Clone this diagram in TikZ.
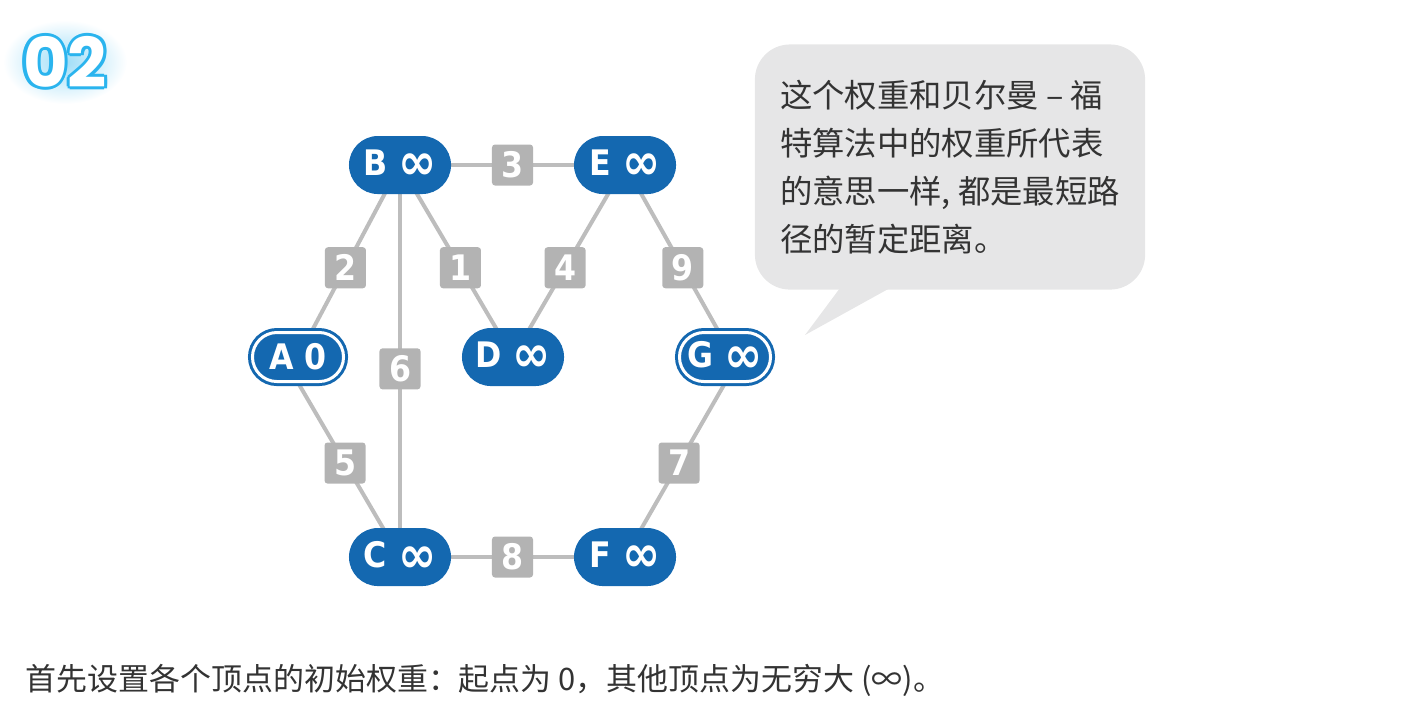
\documentclass[tikz,border=0pt]{standalone}
\usepackage{fontspec}
\setmainfont{DejaVu Sans}
\newfontfamily\cjk{Noto Sans CJK SC}
\newfontfamily\vtxfont{DejaVu Sans Condensed}
\newfontfamily\numfont{Poppins}
\usetikzlibrary{shapes.misc,positioning}
\definecolor{nodeblue}{HTML}{1468B0}
\definecolor{edgegray}{HTML}{BDBDBD}
\definecolor{wtgray}{HTML}{B3B3B3}
\definecolor{bubblegray}{HTML}{E6E6E7}
\definecolor{glowblue}{HTML}{2AB4EE}
\definecolor{textgray}{HTML}{333333}
\pgfdeclarelayer{bg}
\pgfsetlayers{bg,main}
\newcommand{\infsym}{\raisebox{-0.12em}{\scalebox{1.45}{∞}}}
\newcommand{\rimcopy}[3]{\rlap{\hspace{#1}\raisebox{#2}{\textcolor{glowblue}{#3}}}}
\newcommand{\rimtext}[1]{%
  \rimcopy{0.9pt}{0pt}{#1}\rimcopy{-0.9pt}{0pt}{#1}%
  \rimcopy{0pt}{0.9pt}{#1}\rimcopy{0pt}{-0.9pt}{#1}%
  \rimcopy{0.64pt}{0.64pt}{#1}\rimcopy{-0.64pt}{0.64pt}{#1}%
  \rimcopy{0.64pt}{-0.64pt}{#1}\rimcopy{-0.64pt}{-0.64pt}{#1}%
  \textcolor{white}{#1}}

\begin{document}
\begin{tikzpicture}[x=0.01cm, y=-0.01cm,
    vtx/.style={rounded rectangle, fill=nodeblue, text=white, minimum width=1.02cm, minimum height=0.58cm, inner sep=0pt, font=\vtxfont\bfseries\fontsize{10}{12}\selectfont},
    start/.style={vtx, draw=nodeblue, double=white, double distance=0.03cm, line width=0.03cm, minimum width=0.91cm, minimum height=0.49cm},
    wt/.style={fill=wtgray, text=white, rounded corners=0.03cm, minimum width=0.41cm, minimum height=0.41cm, inner sep=0pt, font=\vtxfont\bfseries\fontsize{10}{12}\selectfont},
    edge/.style={draw=edgegray, line width=0.04cm},
    num/.style={font=\numfont\bfseries\fontsize{19.5}{20}\selectfont}
]
\useasboundingbox (0,0) rectangle (1416,720);

% step number with glow
\shade[inner color=glowblue!45, outer color=white] (65,62) ellipse [x radius=0.62cm, y radius=0.42cm];
\node (num) [num] at (65,62) {\rimtext{02}};

% vertices
\node (B) at (400,165) [vtx] {B \infsym};
\node (E) at (625,165) [vtx] {E \infsym};
\node (A) at (298,357) [start] {A 0};
\node (D) at (513,357) [vtx] {D \infsym};
\node (G) at (725,357) [start] {G \infsym};
\node (C) at (400,557) [vtx] {C \infsym};
\node (F) at (625,557) [vtx] {F \infsym};

% weighted edges
\begin{pgfonlayer}{bg}
\draw[edge] (B.center) -- node[wt] {3} (E.center);
\draw[edge] (B.center) -- node[wt, pos=.535] {2} (A.center);
\draw[edge] (B.center) -- node[wt, pos=.535] {1} (D.center);
\draw[edge] (E.center) -- node[wt, pos=.535] {4} (D.center);
\draw[edge] (E.center) -- node[wt, pos=.535] {9} ([xshift=0.08cm]G.center);
\draw[edge] (B.center) -- node[wt, pos=.52] {6} (C.center);
\draw[edge] ([xshift=-0.15cm]A.center) -- node[wt, pos=.53] {5} (C.center);
\draw[edge] ([xshift=0.15cm]G.center) -- node[wt, pos=.53] {7} (F.center);
\draw[edge] (C.center) -- node[wt] {8} (F.center);
\end{pgfonlayer}

% speech bubble
\node (note) at (950,167) [fill=bubblegray, rounded corners=0.35cm, minimum width=3.9cm, minimum height=2.45cm, align=left, text=textgray, font=\cjk\fontsize{9.2}{13.6}\selectfont] {这个权重和贝尔曼 – 福\\特算法中的权重所代表\\的意思一样,~都是最短路\\径的暂定距离。};
\fill[bubblegray] (840,288) -- (890,288) -- (805,335) -- cycle;

% caption
\node (caption) at (25,680) [anchor=west, inner sep=0pt, text=textgray, font=\cjk\fontsize{8.8}{11}\selectfont] {首先设置各个顶点的初始权重：起点为 0，其他顶点为无穷大 (∞)。};

\end{tikzpicture}
\end{document}
